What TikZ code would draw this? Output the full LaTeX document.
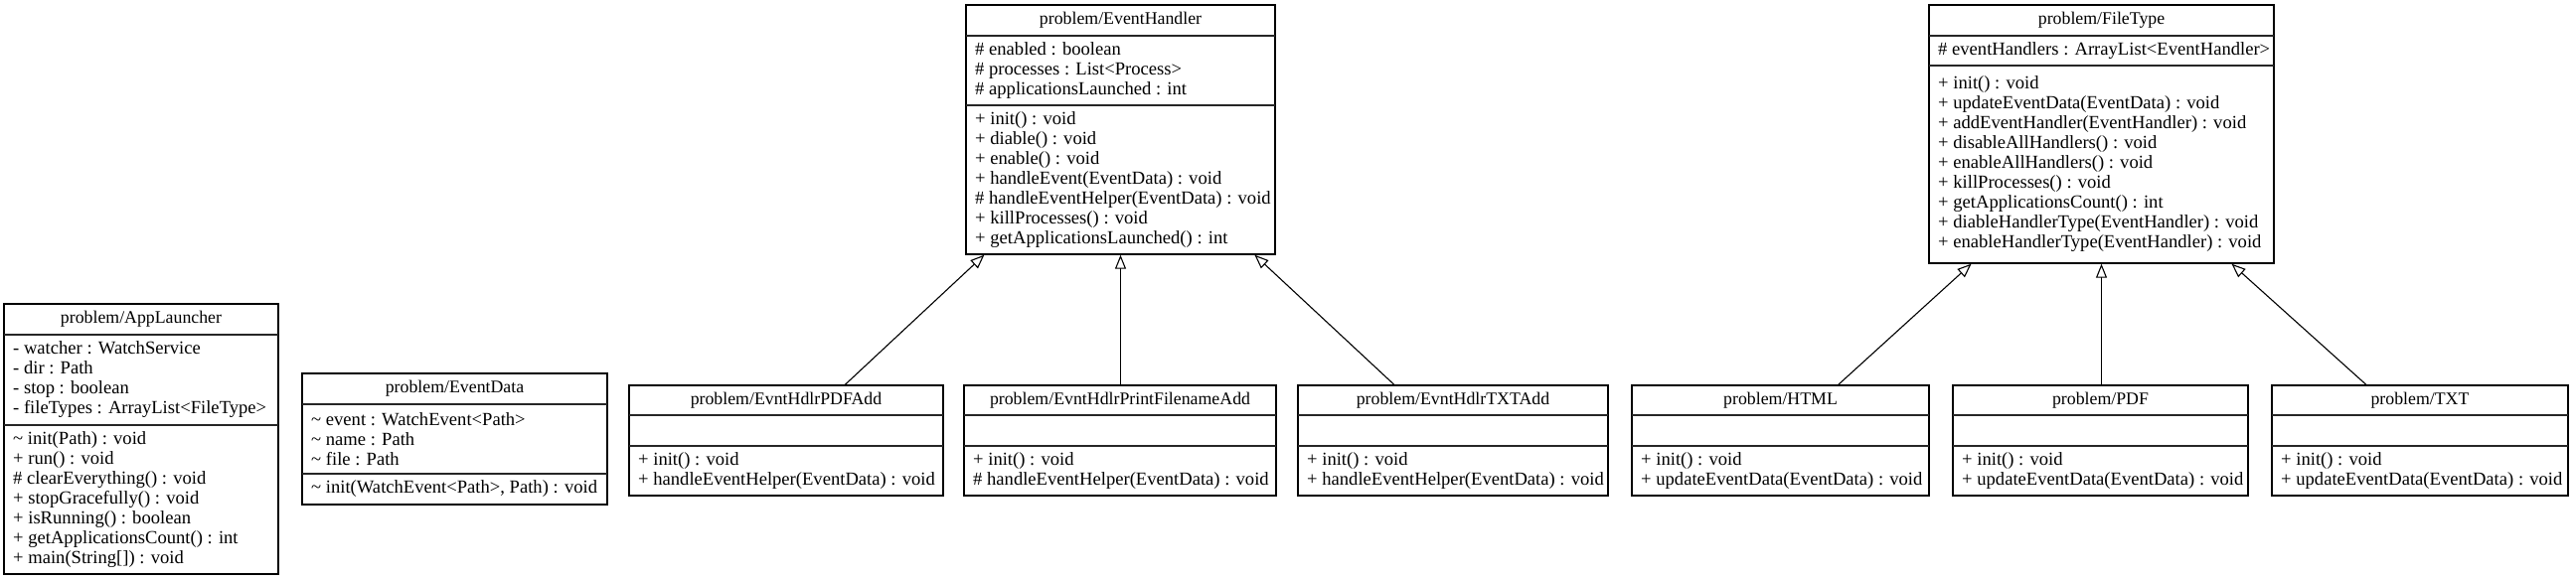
\documentclass[tikz,border=0pt]{standalone}
\usepackage{fontspec}
\setmainfont{Liberation Serif}
\usetikzlibrary{arrows.meta,calc,fit}
\tikzset{
  classbox/.style={draw=black, line width=1.4pt, inner sep=0pt},
  sepline/.style={draw=black!85, line width=1.4pt},
  titletext/.style={inner sep=0pt, font=\fontsize{17.8}{20}\selectfont},
  membertext/.style={inner sep=0pt, anchor=west, align=left, font=\fontsize{18.6}{20}\selectfont},
  inherit/.style={draw=black, line width=1.1pt, -{Triangle[open, length=14pt, width=11pt, fill=white]}},
}
\newcommand\umlclass[9]{%
  \node[classbox, fit={(#2,#3) (#4,#5)}] (#1) {};
  \draw[sepline] (#2,#6) -- (#4,#6);
  \draw[sepline] (#2,#7) -- (#4,#7);
  \node[titletext] (#1-title) at ({(#2+#4)/2},{(#3+#6)/2}) {#8};
  \node[membertext] (#1-attrs) at ({#2+9},{(#6+#7)/2}) {#9};
  \gdef\uclx{#2}\gdef\ucsep{#7}\gdef\ucbot{#5}\gdef\ucname{#1}%
  \umlmethods}
\newcommand\umlmethods[1]{\node[membertext] (\ucname-meth) at ({\uclx+9},{(\ucsep+\ucbot)/2}) {#1};}
\begin{document}
\begin{tikzpicture}[x=1pt, y=-1pt]
\useasboundingbox (0,0) rectangle (2592,585);
\fill[white] (0,0) rectangle (2592,585);

\umlclass{app}{4}{306}{280}{578}{337}{428}{problem/AppLauncher}
  {- watcher : WatchService\\- dir : Path\\- stop : boolean\\- fileTypes : ArrayList<FileType>}
  {\textasciitilde{} init(Path) : void\\+ run() : void\\\# clearEverything() : void\\+ stopGracefully() : void\\+ isRunning() : boolean\\+ getApplicationsCount() : int\\+ main(String[]) : void}

\umlclass{evdata}{304}{376}{611}{508}{407}{477}{problem/EventData}
  {\textasciitilde{} event : WatchEvent<Path>\\\textasciitilde{} name : Path\\\textasciitilde{} file : Path}
  {\textasciitilde{} init(WatchEvent<Path>, Path) : void}

\umlclass{eh}{972}{5}{1283}{256}{36}{106}{problem/EventHandler}
  {\# enabled : boolean\\\# processes : List<Process>\\\# applicationsLaunched : int}
  {+ init() : void\\+ diable() : void\\+ enable() : void\\+ handleEvent(EventData) : void\\\# handleEventHelper(EventData) : void\\+ killProcesses() : void\\+ getApplicationsLaunched() : int}

\umlclass{ft}{1941}{5}{2288}{265}{36}{66}{problem/FileType}
  {\# eventHandlers : ArrayList<EventHandler>}
  {+ init() : void\\+ updateEventData(EventData) : void\\+ addEventHandler(EventHandler) : void\\+ disableAllHandlers() : void\\+ enableAllHandlers() : void\\+ killProcesses() : void\\+ getApplicationsCount() : int\\+ diableHandlerType(EventHandler) : void\\+ enableHandlerType(EventHandler) : void}

\umlclass{pdfadd}{633}{388}{949}{499}{418}{449}{problem/EvntHdlrPDFAdd}{}
  {+ init() : void\\+ handleEventHelper(EventData) : void}
\umlclass{printadd}{970}{388}{1284}{499}{418}{449}{problem/EvntHdlrPrintFilenameAdd}{}
  {+ init() : void\\\# handleEventHelper(EventData) : void}
\umlclass{txtadd}{1306}{388}{1618}{499}{418}{449}{problem/EvntHdlrTXTAdd}{}
  {+ init() : void\\+ handleEventHelper(EventData) : void}
\umlclass{html}{1642}{388}{1941}{499}{418}{449}{problem/HTML}{}
  {+ init() : void\\+ updateEventData(EventData) : void}
\umlclass{pdf}{1965}{388}{2262}{499}{418}{449}{problem/PDF}{}
  {+ init() : void\\+ updateEventData(EventData) : void}
\umlclass{txt}{2286}{388}{2584}{499}{418}{449}{problem/TXT}{}
  {+ init() : void\\+ updateEventData(EventData) : void}

\draw[inherit] ($(pdfadd.north west)!0.687!(pdfadd.north east)$) -- ($(eh.south west)!0.061!(eh.south east)$);
\draw[inherit] (printadd.north -| eh.south) -- (eh.south);
\draw[inherit] ($(txtadd.north west)!0.311!(txtadd.north east)$) -- ($(eh.south west)!0.932!(eh.south east)$);
\draw[inherit] ($(html.north west)!0.694!(html.north east)$) -- ($(ft.south west)!0.124!(ft.south east)$);
\draw[inherit] (pdf.north -| ft.south) -- (ft.south);
\draw[inherit] ($(txt.north west)!0.319!(txt.north east)$) -- ($(ft.south west)!0.876!(ft.south east)$);
\end{tikzpicture}
\end{document}
